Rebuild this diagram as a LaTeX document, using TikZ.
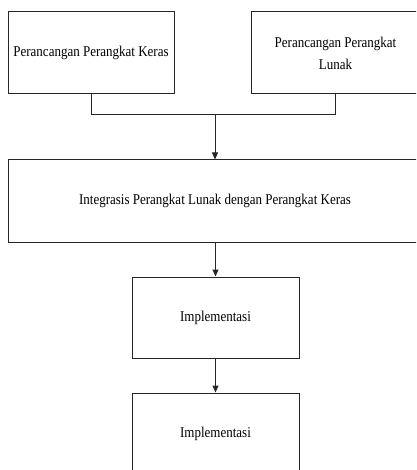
\documentclass[tikz,border=0pt]{standalone}
\usepackage{fontspec}
\setmainfont{Liberation Serif}
\usetikzlibrary{arrows.meta}
\newcommand\tallt[1]{\scalebox{1}[1.15]{#1}}
\tikzset{
  box/.style={draw=black!85, line width=1pt, rectangle, inner sep=0pt, align=center, font=\fontsize{13}{22}\selectfont},
  conn/.style={draw=black!85, line width=1pt},
  arr/.style={conn, -{Triangle[length=7pt,width=6pt]}}
}
\begin{document}
\begin{tikzpicture}[x=1pt,y=-1pt]
\useasboundingbox (0,0) rectangle (416,470);
\clip (0,0) rectangle (416,470);
\node[box, minimum width=166pt, minimum height=82pt] (b1) at (91,53) {\tallt{Perancangan Perangkat Keras}};
\node[box, minimum width=169pt, minimum height=82pt] (b2) at (335.5,53) {\tallt{Perancangan Perangkat}\\\tallt{Lunak}};
\node[box, minimum width=414pt, minimum height=82pt] (b3) at (215,201) {\tallt{Integrasis Perangkat Lunak dengan Perangkat Keras}};
\node[box, minimum width=167pt, minimum height=81pt] (b4) at (215.5,317.5) {\tallt{Implementasi}};
\node[box, minimum width=167pt, minimum height=82pt] (b5) at (215.5,434) {\tallt{Implementasi}};
\coordinate (m) at (215,115);
\draw[conn] (b1.south) |- (m);
\draw[conn] (b2.south) |- (m);
\draw[arr] (m) -- (b3.north);
\draw[arr] (b3.south -| b4.north) -- (b4.north);
\draw[arr] (b4.south) -- (b5.north);
\end{tikzpicture}
\end{document}
